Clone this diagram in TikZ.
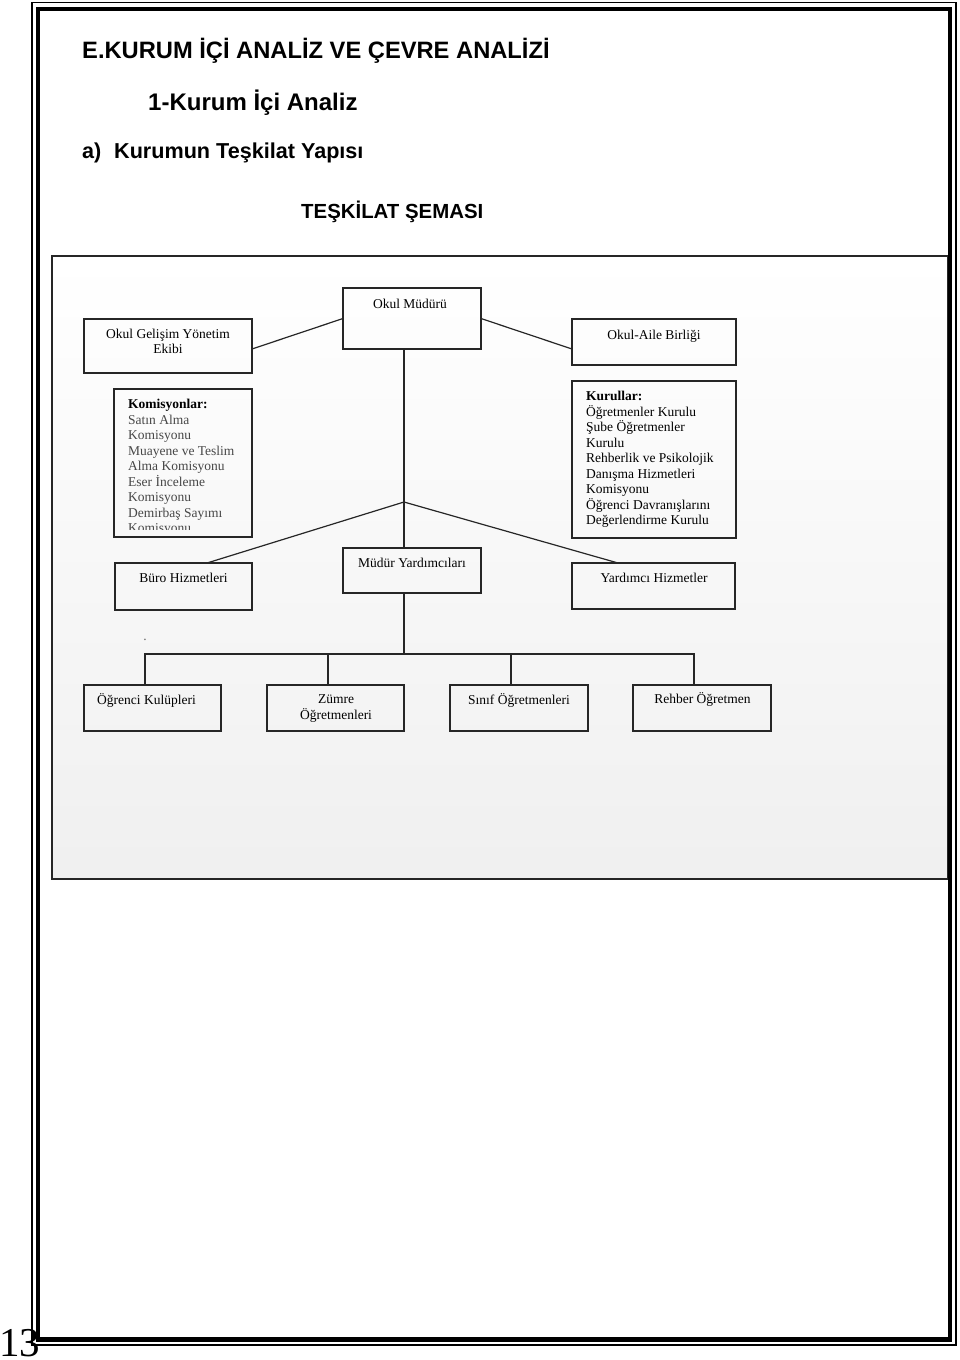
\documentclass[tikz,border=0pt]{standalone}
\usepackage{fontspec}
\setmainfont{Liberation Serif}
\newfontfamily\headfont{Liberation Sans}
\begin{document}
\begin{tikzpicture}[x=1pt,y=-1pt,
  box/.style={draw=black!85, line width=1.3pt, inner sep=0pt, outer sep=0pt, anchor=north west},
  lbl/.style={font=\fontsize{13.5}{15.5}\selectfont, inner sep=0pt, anchor=base},
  lst/.style={font=\fontsize{13.5}{15.5}\selectfont, inner sep=0pt, anchor=base west},
  conn/.style={draw=black!85, line width=1.2pt},
  head/.style={anchor=base west, inner sep=0pt}]
\useasboundingbox (0,0) rectangle (960,1360);
\fill[white] (0,0) rectangle (960,1360);

% page number
\node[anchor=base west, inner sep=0pt, font=\fontsize{41}{41}\selectfont] (pg) at (-1,1356) {13};

% headings
\node[head, font=\headfont\bfseries\fontsize{23.7}{24}\selectfont] (t1) at (82,58) {E.KURUM İÇİ ANALİZ VE ÇEVRE ANALİZİ};
\node[head, font=\headfont\bfseries\fontsize{24}{24}\selectfont] (t2) at (148,110) {1-Kurum İçi Analiz};
\node[head, font=\headfont\bfseries\fontsize{21.6}{22}\selectfont] (t3a) at (82,158) {a)};
\node[head, font=\headfont\bfseries\fontsize{21.6}{22}\selectfont] (t3b) at (114,158) {Kurumun Teşkilat Yapısı};
\node[head, font=\headfont\bfseries\fontsize{20.4}{21}\selectfont] (t4) at (301,218) {TEŞKİLAT ŞEMASI};

% chart frame
\shade[top color=white, bottom color=black!6] (52,256) rectangle (948,879);
\draw[line width=1.3pt, draw=black!85] (52,256) rectangle (948,879);

% boxes
\node[box, minimum width=138pt, minimum height=61pt] (mudur) at (343,288) {};
\node[box, minimum width=168pt, minimum height=54pt] (ogye) at (84,319) {};
\node[box, minimum width=164pt, minimum height=46pt] (oab) at (572,319) {};
\node[box, minimum width=138pt, minimum height=148pt] (komis) at (114,389) {};
\node[box, minimum width=164pt, minimum height=157pt] (kurul) at (572,381) {};
\node[box, minimum width=137pt, minimum height=47pt] (buro) at (115,563) {};
\node[box, minimum width=138pt, minimum height=45pt] (myard) at (343,548) {};
\node[box, minimum width=163pt, minimum height=46pt] (yard) at (572,563) {};
\node[box, minimum width=137pt, minimum height=46pt] (b1) at (84,685) {};
\node[box, minimum width=137pt, minimum height=46pt] (b2) at (267,685) {};
\node[box, minimum width=138pt, minimum height=46pt] (b3) at (450,685) {};
\node[box, minimum width=138pt, minimum height=46pt] (b4) at (633,685) {};

% labels
\node[lbl] (mudurT) at (410,308.7) {Okul Müdürü};
\node[lbl] (ogyeT1) at (168,338) {Okul Gelişim Yönetim};
\node[lbl] (ogyeT2) at (168,353) {Ekibi};
\node[lbl] (oabT) at (654,339) {Okul-Aile Birliği};
\node[lbl] (myardT) at (412,567) {Müdür Yardımcıları};
\node[lbl] (buroT) at (183.5,582) {Büro Hizmetleri};
\node[lbl] (yardT) at (654,582) {Yardımcı Hizmetler};
\node[lst] (b1T) at (97,704) {Öğrenci Kulüpleri};
\node[lbl] (b2T1) at (336,703) {Zümre};
\node[lbl] (b2T2) at (336,719) {Öğretmenleri};
\node[lbl] (b3T) at (519,704) {Sınıf Öğretmenleri};
\node[lbl] (b4T) at (702.5,703) {Rehber Öğretmen};
\node[lbl, text=black!60] (dot) at (145,640) {.};

\begin{scope}
\clip (116,391) rectangle (250,529.5);
\node[lst] (komisT) at (128,408.7) {\begin{tabular}[t]{@{}l@{}}\textbf{Komisyonlar:}\\
{\color{black!72}Satın Alma}\\
{\color{black!72}Komisyonu}\\
{\color{black!72}Muayene ve Teslim}\\
{\color{black!72}Alma Komisyonu}\\
{\color{black!72}Eser İnceleme}\\
{\color{black!72}Komisyonu}\\
{\color{black!72}Demirbaş Sayımı}\\
{\color{black!72}Komisyonu}\end{tabular}};
\end{scope}
\node[lst] (kurulT) at (586,400.7) {\begin{tabular}[t]{@{}l@{}}\textbf{Kurullar:}\\
Öğretmenler Kurulu\\
Şube Öğretmenler\\
Kurulu\\
Rehberlik ve Psikolojik\\
Danışma Hizmetleri\\
Komisyonu\\
Öğrenci Davranışlarını\\
Değerlendirme Kurulu\end{tabular}};

% connectors
\draw[conn] (mudur.west) -- ([yshift=-3pt]ogye.east);
\draw[conn] (mudur.east) -- ([yshift=-7pt]oab.west);
\coordinate (j) at (404,502);
\draw[conn] (mudur.south -| j) -- (myard.north -| j);
\draw[conn] ([xshift=23.5pt]buro.north) -- (j) -- ([xshift=-35.5pt]yard.north);
\coordinate (h) at (404,654);
\draw[conn] (myard.south -| h) -- (h);
\coordinate (d1) at ([xshift=-7.5pt]b1.north);
\coordinate (d2) at ([xshift=-7.5pt]b2.north);
\coordinate (d3) at ([xshift=-8pt]b3.north);
\coordinate (d4) at ([xshift=-8pt]b4.north);
\draw[conn] (d1) |- (h);
\draw[conn] (d4) |- (h);
\draw[conn] (d2) -- (d2 |- h);
\draw[conn] (d3) -- (d3 |- h);

% page border
\draw[line width=1.2pt] (32,2.5) rectangle (956,1345);
\draw[line width=4.5pt] (38,9) rectangle (950,1339.3);
\end{tikzpicture}
\end{document}
